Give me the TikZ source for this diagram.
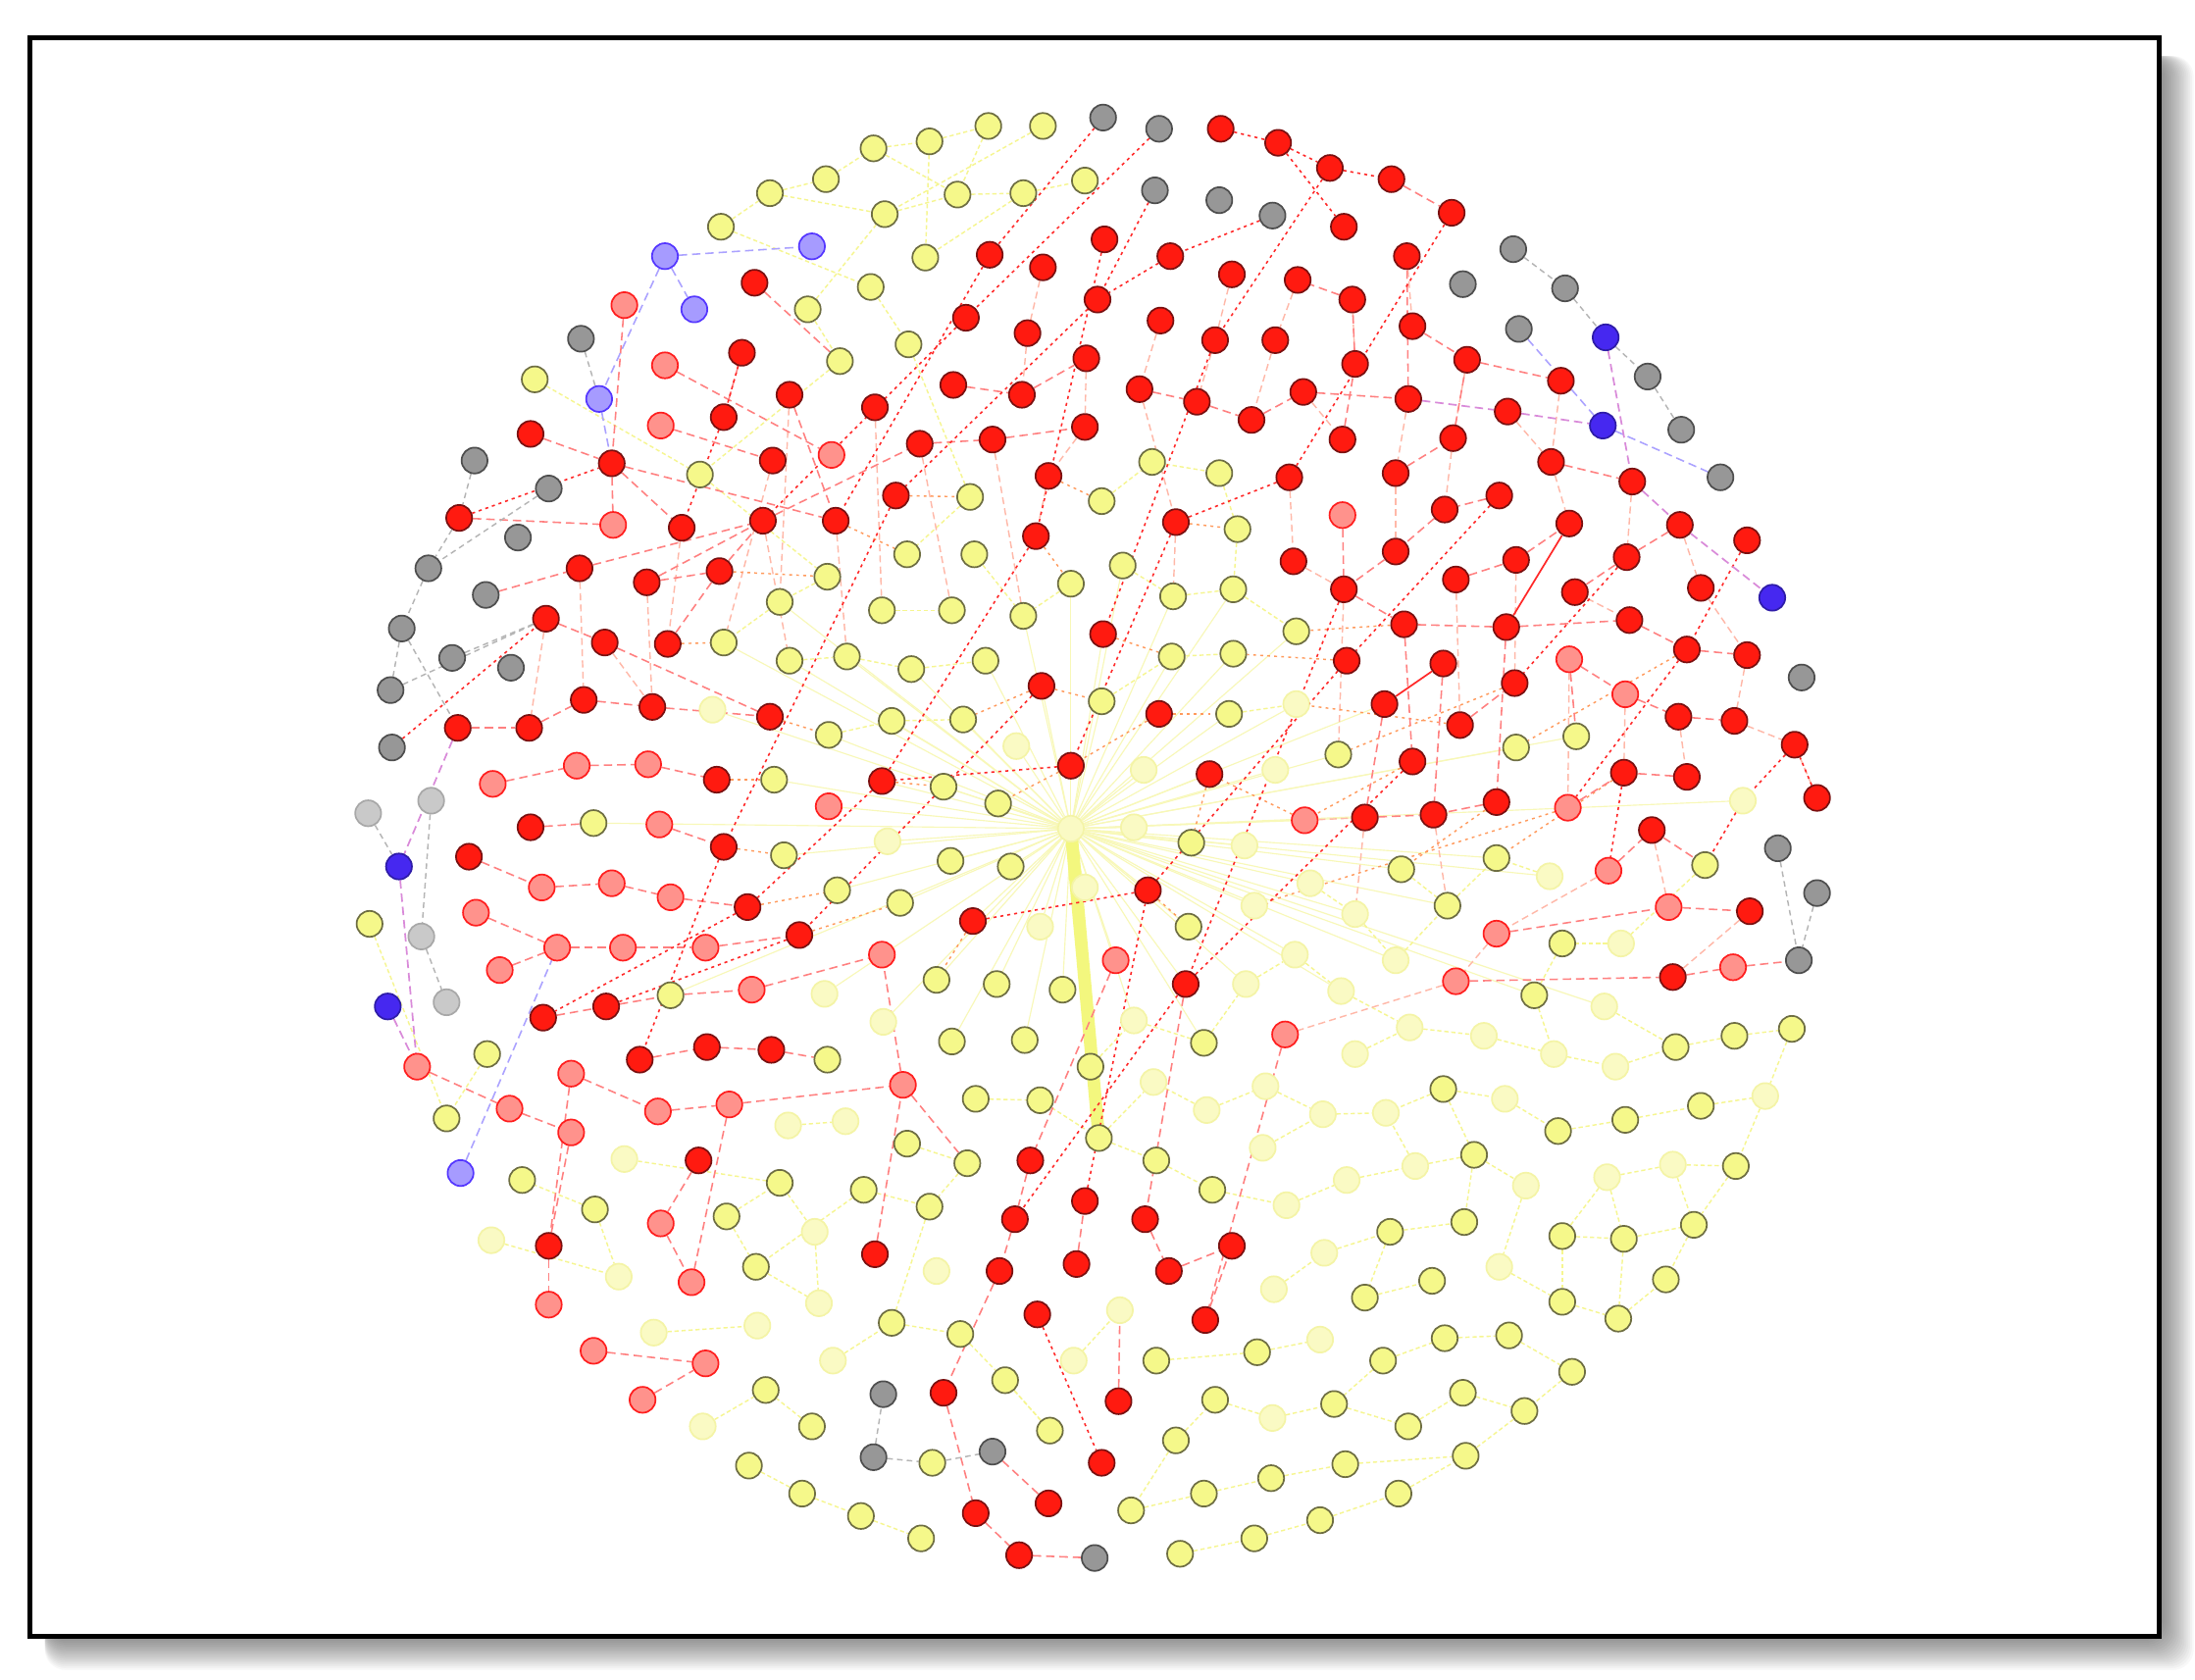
\documentclass[tikz,border=0pt]{standalone}
\pgfdeclarelayer{back}
\pgfdeclarelayer{edges}
\pgfsetlayers{back,edges,main}
\definecolor{yfill}{HTML}{F5F88A}
\definecolor{ydraw}{HTML}{6E6E42}
\definecolor{yffill}{HTML}{FAFAC4}
\definecolor{yfdraw}{HTML}{F4F4A6}
\definecolor{rfill}{HTML}{FF1A10}
\definecolor{rdraw}{HTML}{7A1010}
\definecolor{pfill}{HTML}{FF928C}
\definecolor{pdraw}{HTML}{FF1E1E}
\definecolor{gfill}{HTML}{979797}
\definecolor{gdraw}{HTML}{4E4E4E}
\definecolor{lgfill}{HTML}{C9C9C9}
\definecolor{lgdraw}{HTML}{A8A8A8}
\definecolor{bfill}{HTML}{4628F0}
\definecolor{bdraw}{HTML}{2E1CA8}
\definecolor{lbfill}{HTML}{A69BFF}
\definecolor{lbdraw}{HTML}{5436FF}
\definecolor{ered}{HTML}{FF2828}
\definecolor{esal}{HTML}{FF8080}
\definecolor{eora}{HTML}{FF9A5C}
\definecolor{epal}{HTML}{FFB8A8}
\definecolor{eyel}{HTML}{F6F690}
\definecolor{ehub}{HTML}{F8F8B8}
\definecolor{egry}{HTML}{B4B4B4}
\definecolor{elav}{HTML}{ABA2FF}
\definecolor{emag}{HTML}{D98AD9}
\definecolor{ethk}{HTML}{F3F77E}
\begin{document}
\begin{tikzpicture}[x=0.1mm,y=-0.1mm,
  nd/.style={circle,inner sep=0pt,minimum size=1.85mm,line width=0.12mm},
  ny/.style={nd,fill=yfill,draw=ydraw},
  nyf/.style={nd,fill=yffill,draw=yfdraw},
  nr/.style={nd,fill=rfill,draw=rdraw},
  np/.style={nd,fill=pfill,draw=pdraw},
  ng/.style={nd,fill=gfill,draw=gdraw},
  nlg/.style={nd,fill=lgfill,draw=lgdraw},
  nb/.style={nd,fill=bfill,draw=bdraw},
  nlb/.style={nd,fill=lbfill,draw=lbdraw},
  ere/.style={draw=ered,line width=0.11mm,dash pattern=on 0.22mm off 0.28mm},
  ersol/.style={draw=ered,line width=0.12mm},
  ers/.style={draw=esal,line width=0.11mm,dash pattern=on 0.6mm off 0.35mm},
  ero/.style={draw=eora,line width=0.1mm,dash pattern=on 0.2mm off 0.3mm},
  erp/.style={draw=epal,line width=0.1mm,dash pattern=on 0.5mm off 0.3mm},
  eye/.style={draw=eyel,line width=0.1mm,dash pattern=on 0.3mm off 0.2mm},
  ehubl/.style={draw=ehub,line width=0.08mm},
  egy/.style={draw=egry,line width=0.1mm,dash pattern=on 0.4mm off 0.3mm},
  ebl/.style={draw=elav,line width=0.11mm,dash pattern=on 0.6mm off 0.35mm},
  emg/.style={draw=emag,line width=0.12mm,dash pattern=on 0.6mm off 0.35mm}]
\useasboundingbox (0,0) rectangle (1568,1200);
\begin{pgfonlayer}{back}
\fill[white] (0,0) rectangle (1568,1200);
\foreach \k in {0,...,17}
  \fill[black,opacity=0.028,rounded corners=1.5mm] (32,40) rectangle ({1545+1.3*\k},{1171+1.3*\k});
\fill[white] (21.5,27) rectangle (1542.5,1169);
\draw[line width=0.35mm] (21.5,27) rectangle (1542.5,1169);
\end{pgfonlayer}

% yellow nodes
\foreach \x/\y in {745/90, 706/90, 664/101, 624/106, 590/128, 550/138, 515/162, 775/129, 731/138, 684/139, 632/153, 661/184, 382/271, 577/221, 622/205, 600/258, 649/246, 500/339, 823/330, 871/338, 693/355, 787/358, 884/378, 591/412, 648/396, 696/396, 802/404, 765/417, 838/426, 881/421, 517/459, 557/430, 564/472, 605/469, 630/436, 680/436, 651/478, 704/472, 731/440, 837/469, 881/467, 926/451, 592/525, 637/515, 688/514, 787/501, 878/510, 553/557, 674/562, 713/574, 956/539, 1083/534, 1126/526, 424/588, 560/611, 679/615, 722/619, 851/602, 1001/621, 1069/613, 1218/618, 264/660, 598/636, 643/645, 849/662, 1034/647, 1116/674, 669/700, 712/703, 759/707, 1096/711, 479/711, 680/744, 732/743, 779/762, 860/745, 1197/748, 1239/740, 1280/735, 348/753, 591/757, 697/785, 743/786, 1031/778, 1113/808, 1161/800, 1215/790, 319/799, 648/817, 691/831, 785/813, 826/829, 866/850, 1053/825, 1240/833, 373/843, 557/845, 617/850, 664/862, 993/880, 1046/873, 1116/883, 1160/885, 1210/875, 425/864, 519/869, 975/927, 1023/915, 1116/930, 1156/942, 1190/914, 540/905, 637/945, 686/953, 898/966, 988/972, 1032/956, 1078/954, 826/972, 1123/980, 547/993, 718/986, 868/1000, 953/1003, 1006/1019, 1045/995, 1089/1008, 580/1019, 750/1022, 840/1029, 535/1047, 666/1045, 908/1056, 961/1046, 1047/1040, 573/1067, 808/1079, 860/1067, 999/1067, 615/1083, 658/1099, 843/1110, 896/1099, 943/1086}
  \node[ny] (p\x-\y) at (\x,\y) {};
% faded yellow nodes
\foreach \x/\y in {509/507, 926/503, 726/533, 817/550, 911/550, 1245/572, 634/601, 765/592, 810/591, 889/604, 743/662, 775/634, 896/647, 936/631, 968/653, 1107/626, 1158/674, 890/703, 925/682, 958/708, 997/686, 1146/719, 589/710, 631/730, 810/729, 968/753, 1007/734, 1060/740, 1110/753, 1154/762, 824/773, 862/793, 904/776, 945/796, 990/795, 1075/785, 1261/783, 563/804, 604/801, 902/820, 919/861, 962/843, 1011/833, 1090/847, 1148/841, 1195/832, 446/828, 946/895, 351/886, 582/880, 669/908, 910/921, 1071/905, 442/912, 585/931, 800/936, 943/957, 467/952, 541/947, 595/972, 767/972, 909/1013, 502/1019}
  \node[nyf] (p\x-\y) at (\x,\y) {};
% red nodes
\foreach \x/\y in {872/92, 913/102, 950/120, 994/128, 960/162, 1037/152, 1005/183, 539/202, 707/182, 745/191, 789/171, 836/183, 880/196, 927/200, 966/214, 1009/233, 1048/257, 1115/272, 530/252, 690/227, 734/238, 784/214, 829/229, 868/243, 911/243, 968/260, 517/298, 564/282, 625/291, 681/275, 730/282, 776/256, 814/278, 855/287, 894/300, 931/280, 1006/285, 1077/294, 379/310, 328/370, 437/331, 552/329, 657/317, 709/314, 775/305, 921/341, 959/314, 1038/313, 1108/330, 1166/344, 997/338, 487/377, 545/372, 597/372, 640/354, 749/340, 840/373, 1032/364, 1071/354, 1121/374, 1200/375, 1248/386, 414/406, 462/416, 514/408, 740/383, 924/401, 997/394, 1040/414, 1083/400, 1162/398, 1125/423, 1215/420, 960/421, 390/442, 432/459, 477/460, 788/453, 962/472, 1003/446, 1076/448, 1031/474, 1164/443, 1205/464, 1248/468, 327/520, 378/520, 417/500, 466/505, 550/512, 744/490, 828/510, 989/503, 1043/518, 1082/488, 1199/512, 1239/515, 512/557, 630/558, 765/547, 864/553, 1009/544, 1069/573, 1024/582, 975/584, 1160/552, 1205/555, 1282/532, 1298/570, 335/612, 379/591, 517/605, 1180/593, 534/648, 695/658, 820/636, 1250/651, 571/668, 847/703, 1195/698, 388/727, 433/719, 457/757, 505/748, 551/750, 736/829, 499/829, 725/871, 775/858, 818/871, 880/890, 392/890, 625/896, 714/908, 769/903, 835/908, 741/939, 861/943, 674/995, 799/1001, 787/1045, 697/1081, 749/1074, 728/1111}
  \node[nr] (p\x-\y) at (\x,\y) {};
% pink nodes
\foreach \x/\y in {446/218, 475/261, 472/304, 594/325, 438/375, 959/368, 1121/471, 1161/496, 352/560, 412/547, 463/546, 592/576, 471/589, 932/586, 1120/577, 340/652, 387/634, 437/631, 479/641, 1069/667, 1149/622, 1192/648, 357/693, 398/677, 445/677, 504/677, 630/682, 797/686, 1040/701, 1238/691, 537/707, 918/739, 298/762, 408/767, 645/775, 364/792, 408/809, 470/794, 521/789, 472/874, 392/932, 494/916, 424/965, 504/974, 459/1000}
  \node[np] (p\x-\y) at (\x,\y) {};
% gray nodes
\foreach \x/\y in {788/84, 828/92, 825/136, 871/143, 909/154, 1081/178, 1118/206, 1045/203, 1085/235, 1177/269, 1201/307, 1229/341, 415/242, 339/329, 392/349, 370/384, 306/406, 347/425, 287/449, 323/470, 365/477, 279/493, 280/534, 1287/484, 1270/606, 1298/638, 1285/686, 631/996, 624/1041, 709/1037, 782/1113}
  \node[ng] (p\x-\y) at (\x,\y) {};
\foreach \x/\y in {263/581, 308/572, 301/669, 319/716}
  \node[nlg] (p\x-\y) at (\x,\y) {};
\foreach \x/\y in {1147/241, 1145/304, 1266/427, 285/619, 277/719}
  \node[nb] (p\x-\y) at (\x,\y) {};
\foreach \x/\y in {475/183, 580/176, 496/221, 428/285, 329/838}
  \node[nlb] (p\x-\y) at (\x,\y) {};

\begin{pgfonlayer}{edges}
% hub star
\foreach \b in {674-562, 713-574, 722-619, 726-533, 810-591, 817-550, 851-602, 889-604, 787-501, 688-514, 637-515, 634-601, 679-615, 743-662, 775-634, 849-662, 896-647, 936-631, 911-550, 956-539, 878-510, 926-503, 864-553, 759-707, 712-703, 643-645, 598-636, 553-557, 592-525, 560-611, 669-700, 810-729, 820-636, 837-469, 881-467, 765-417, 802-404, 731-440, 704-472, 651-478, 605-469, 509-507, 589-710, 631-730, 680-744, 732-743, 890-703, 925-682, 968-653, 1001-621, 1034-647, 1107-626, 958-708, 860-745, 630-558, 695-658, 424-588, 592-576, 1069-613, 765-547, 744-490, 788-453, 838-426, 881-421, 926-451, 564-472, 517-459, 557-430, 479-711, 997-686, 1096-711, 1146-719, 1245-572, 1126-526, 1083-534, 989-503, 975-584, 932-586, 847-703, 797-686}
  \draw[ehubl] (p765-592) -- (p\b);
\draw[draw=ethk,line width=0.9mm,line cap=round] (p765-592.center) -- (p785-813.center);
% yellow edges
\foreach \a/\b in {515-162/550-138, 550-138/590-128, 590-128/624-106, 624-106/664-101, 664-101/706-90, 624-106/684-139, 632-153/684-139, 684-139/731-138, 731-138/775-129, 550-138/632-153, 664-101/661-184, 515-162/622-205, 577-221/632-153, 622-205/649-246, 745-90/632-153, 600-258/500-339, 382-271/500-339, 649-246/693-355, 577-221/600-258, 731-138/661-184, 706-90/684-139,
 823-330/871-338, 787-358/823-330, 693-355/648-396, 696-396/731-440, 802-404/838-426, 838-426/881-421, 881-421/926-451, 765-417/731-440, 630-436/680-436, 591-412/557-430, 557-430/517-459, 564-472/605-469, 605-469/651-478, 651-478/704-472, 837-469/881-467, 592-525/637-515, 637-515/688-514, 787-501/837-469, 878-510/926-503, 884-378/881-421, 871-338/884-378, 500-339/591-412,
 785-813/826-829, 826-829/866-850, 785-813/824-773, 862-793/904-776, 904-776/945-796, 945-796/990-795, 1011-833/1053-825, 1053-825/1090-847, 1148-841/1195-832, 1195-832/1240-833, 1161-800/1215-790, 1215-790/1261-783, 1113-808/1161-800, 1031-778/1075-785, 1075-785/1113-808, 1197-748/1239-740, 1239-740/1280-735, 1110-753/1154-762, 993-880/1046-873, 1116-883/1160-885, 1160-885/1210-875, 975-927/1023-915, 1116-930/1156-942, 1156-942/1190-914, 988-972/1032-956, 1032-956/1078-954, 1078-954/1123-980, 953-1003/1006-1019, 1006-1019/1045-995, 1045-995/1089-1008, 961-1046/1047-1040, 999-1067/1047-1040, 843-1110/896-1099, 896-1099/943-1086, 943-1086/999-1067, 808-1079/860-1067, 860-1067/908-1056, 908-1056/961-1046, 840-1029/868-1000, 826-972/898-966, 898-966/943-957, 535-1047/573-1067, 573-1067/615-1083, 615-1083/658-1099, 580-1019/547-993, 750-1022/718-986, 637-945/686-953, 540-905/585-931, 519-869/557-845, 425-864/373-843, 446-828/557-845, 617-850/664-862, 648-817/691-831, 697-785/743-786, 563-804/604-801, 351-886/442-912, 467-952/541-947, 502-1019/547-993, 595-972/637-945, 767-972/800-936, 909-1013/953-1003, 910-921/946-895, 1071-905/1116-930, 1195-832/1210-875, 1116-883/1116-930, 1148-841/1160-885, 1160-885/1156-942, 1116-674/1096-711, 1096-711/1110-753, 1218-618/1158-674, 1280-735/1261-783, 1261-783/1240-833, 1053-825/1046-873, 993-880/975-927, 264-660/319-799, 348-753/319-799, 1240-833/1210-875, 1210-875/1190-914, 1123-980/1089-1008, 1089-1008/1047-1040, 1031-778/1053-825, 988-972/953-1003, 743-786/785-813, 691-831/664-862, 664-862/637-945, 617-850/540-905, 557-845/582-880, 582-880/585-931, 425-864/442-912, 519-869/540-905, 686-953/718-986, 718-986/750-1022, 868-1000/909-1013, 840-1029/808-1079, 866-850/919-861, 919-861/962-843, 962-843/1011-833, 902-820/945-796, 946-895/993-880, 1090-847/1071-905, 1148-841/1116-883, 1007-734/1060-740, 1060-740/1110-753, 968-753/1007-734, 958-708/1007-734, 997-686/1034-647, 1034-647/1069-613, 1001-621/1034-647, 1107-626/1069-613, 1158-674/1116-674, 1146-719/1197-748, 1154-762/1197-748, 890-703/925-682, 925-682/958-708, 936-631/968-653, 968-653/997-686, 860-745/890-703, 810-729/860-745, 779-762/810-729, 824-773/862-793, 1011-833/990-795, 1031-778/990-795}
  \draw[eye] (p\a) -- (p\b);
% pale salmon edges
\foreach \a/\b in {776-256/775-305, 775-305/749-340, 814-278/840-373, 868-243/855-287, 911-243/894-300, 829-229/814-278, 734-238/730-282, 745-191/734-238, 880-196/868-243, 927-200/911-243, 966-214/968-260, 1005-183/1009-233, 931-280/959-314, 1006-285/997-338, 1077-294/1108-330, 1115-272/1108-330, 1048-257/1038-313, 1038-313/1032-364, 997-338/997-394, 1108-330/1121-374, 1166-344/1162-398, 1200-375/1215-420, 1215-420/1248-468, 1248-468/1239-515, 1125-423/1164-443, 1083-400/1082-488, 1040-414/1043-518, 960-421/956-539, 921-341/924-401, 924-401/960-421, 840-373/838-426, 749-340/740-383, 709-314/731-440, 657-317/680-436, 625-291/630-436, 564-282/557-430, 552-329/517-459, 487-377/477-460, 545-372/564-472, 597-372/605-469, 462-416/466-505, 414-406/417-500, 390-442/378-520, 432-459/466-505, 1121-471/1120-577, 1161-496/1160-552, 1199-512/1205-555, 1239-515/1282-532, 1282-532/1298-570, 1180-593/1192-648, 1250-651/1195-698, 1149-622/1069-667, 1069-667/1040-701, 1040-701/918-739, 932-586/975-584, 1024-582/1034-647, 975-584/968-653}
  \draw[erp] (p\a) -- (p\b);
% orange dotted edges
\foreach \a/\b in {1082-488/956-539, 1120-577/896-647, 1205-464/1083-534, 1009-544/932-586, 932-586/864-553, 828-510/765-547, 744-490/688-514, 1043-518/926-503, 1069-573/1001-621, 1160-552/1069-613, 962-472/881-467, 1003-446/926-451, 840-373/884-378, 740-383/765-417, 749-340/787-358, 640-354/693-355, 597-372/648-396, 514-408/591-412, 477-460/517-459, 550-512/592-525, 630-558/674-562, 512-557/553-557, 517-605/560-611, 534-648/598-636, 571-668/643-645, 695-658/669-700, 820-636/849-662, 864-553/851-602, 765-547/713-574, 788-453/837-469, 744-490/787-501, 828-510/878-510}
  \draw[ero] (p\a) -- (p\b);
% salmon dashed edges
\foreach \a/\b in {327-520/378-520, 378-520/417-500, 417-500/466-505, 466-505/550-512, 390-442/432-459, 432-459/550-512, 477-460/514-408, 462-416/514-408, 514-408/545-372, 545-372/657-317, 657-317/709-314, 709-314/775-305, 681-275/730-282, 730-282/776-256, 814-278/855-287, 855-287/894-300, 894-300/931-280, 931-280/1006-285, 1108-330/1166-344, 997-338/1038-313, 959-314/968-260, 968-260/966-214, 966-214/927-200, 1009-233/1048-257, 1048-257/1115-272, 1038-313/1048-257, 1071-354/1032-364, 1032-364/997-394, 997-394/960-421, 1040-414/1083-400, 1083-400/1121-374, 1162-398/1200-375, 1125-423/1162-398, 1003-446/1076-448, 1076-448/1164-443, 1164-443/1205-464, 1205-464/1248-468, 1199-512/1239-515, 1121-471/1161-496, 1161-496/1199-512, 1043-518/1082-488, 1069-573/1024-582, 975-584/1024-582, 1120-577/1160-552, 1205-555/1160-552, 1149-622/1180-593, 1192-648/1250-651, 1069-667/1192-648, 1195-698/1238-691, 959-368/960-421, 960-421/1003-446, 379-310/437-331, 437-331/487-377, 328-370/438-375, 446-218/437-331, 437-331/438-375, 530-252/517-298, 564-282/597-372, 414-406/545-372, 462-416/545-372, 352-560/412-547, 412-547/463-546, 463-546/512-557, 471-589/517-605, 335-612/387-634, 387-634/437-631, 437-631/479-641, 479-641/534-648, 340-652/398-677, 398-677/445-677, 445-677/504-677, 504-677/571-668, 357-693/398-677, 388-727/433-719, 537-707/630-682, 457-757/505-748, 505-748/551-750, 298-762/364-792, 364-792/408-809, 408-767/470-794, 470-794/521-789, 521-789/645-775, 645-775/630-682, 392-890/392-932, 499-829/472-874, 472-874/494-916, 424-965/504-974, 459-1000/504-974, 408-767/392-890, 521-789/494-916, 797-686/736-829, 736-829/725-871, 725-871/714-908, 714-908/674-995, 674-995/697-1081, 697-1081/728-1111, 769-903/775-858, 818-871/835-908, 835-908/880-890, 861-943/880-890, 847-703/818-871, 918-739/861-943, 799-1001/800-936, 709-1037/749-1074, 728-1111/782-1113, 625-896/645-775, 645-775/691-831, 392-890/408-809, 1040-701/1195-698, 1238-691/1285-686, 1006-285/1005-183, 994-128/1037-152, 1031-474/1024-582, 1076-448/1069-573, 1121-471/1126-526, 1003-446/1009-544, 989-503/975-584, 433-719/479-711, 479-711/537-707, 551-750/591-757, 379-591/424-588, 347-425/414-406, 539-202/600-258, 475-261/594-325, 437-331/597-372, 472-304/552-329, 1180-593/1218-618}
  \draw[ers] (p\a) -- (p\b);
% red dotted edges
\foreach \a/\b in {788-84/707-182, 707-182/597-372, 828-92/690-227, 690-227/545-372, 909-154/836-183, 836-183/784-214, 825-136/784-214, 784-214/640-354, 640-354/517-605, 950-120/868-243, 868-243/788-453, 1037-152/921-341, 921-341/840-373, 840-373/765-547, 765-547/630-558, 630-558/534-648, 534-648/388-727, 962-472/820-636, 820-636/695-658, 1009-544/847-703, 847-703/725-871, 744-490/571-668, 571-668/433-719, 517-605/457-757, 775-858/820-636, 741-939/787-1045, 1205-464/1120-577, 1282-532/1245-572, 1245-572/1218-618, 913-102/960-162, 872-92/913-102, 913-102/950-120, 950-120/994-128, 1248-386/1205-464, 1298-570/1282-532, 789-171/740-383, 740-383/630-558, 1071-354/962-472, 1162-398/1082-488, 960-421/847-703, 1160-552/1149-622, 280-534/390-442, 328-370/437-331, 530-252/517-298, 517-298/487-377}
  \draw[ere] (p\a) -- (p\b);
\draw[ersol] (p1121-374) -- (p1076-448);
\draw[ersol] (p1031-474) -- (p989-503);
% gray edges
\foreach \a/\b in {339-329/328-370, 392-349/306-406, 328-370/306-406, 306-406/287-449, 287-449/279-493, 287-449/327-520, 323-470/390-442, 279-493/390-442, 263-581/285-619, 308-572/301-669, 301-669/319-716, 624-1041/631-996, 624-1041/666-1045, 666-1045/709-1037, 1118-206/1147-241, 1147-241/1177-269, 1177-269/1201-307, 1270-606/1285-686, 1298-638/1285-686, 415-242/428-285, 1081-178/1118-206}
  \draw[egy] (p\a) -- (p\b);
% lavender edges
\foreach \a/\b in {475-183/580-176, 475-183/496-221, 475-183/428-285, 1145-304/1229-341, 1085-235/1145-304, 329-838/398-677, 428-285/437-331}
  \draw[ebl] (p\a) -- (p\b);
% magenta edges
\foreach \a/\b in {1006-285/1077-294, 1077-294/1145-304, 1147-241/1166-344, 1166-344/1200-375, 1200-375/1266-427, 327-520/285-619, 285-619/298-762, 277-719/298-762}
  \draw[emg] (p\a) -- (p\b);
\end{pgfonlayer}
\end{tikzpicture}
\end{document}
